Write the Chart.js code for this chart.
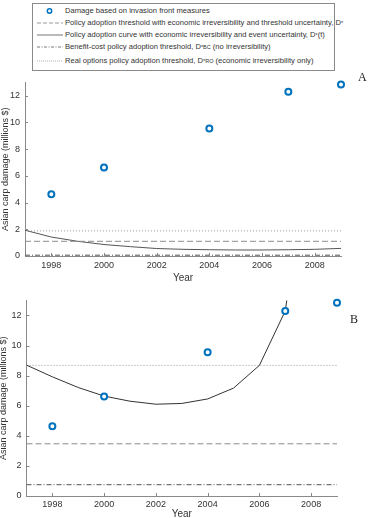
<!DOCTYPE html>
<html>
<head>
<meta charset="utf-8">
<script src="https://cdn.jsdelivr.net/npm/chart.js@4.4.1/dist/chart.umd.min.js"></script>
<style>
  html, body { margin: 0; padding: 0; width: 375px; height: 518px; overflow: hidden; background: #fff; }
  body { position: relative; font-family: "Liberation Sans", Arial, sans-serif; color: #333; }
  .legend { position: absolute; left: 32px; top: 3px; width: 301px; height: 66px; border: 1px solid #8a8a8a; }
  .row { position: absolute; left: 4px; font-size: 7.6px; white-space: nowrap; display: flex; align-items: center; }
  .row svg { width: 26px; height: 6px; margin-right: 2px; flex: none; }
  .row sub, .row sup { font-size: 5.5px; }
  .panel { position: absolute; font-family: "Liberation Serif", "Times New Roman", serif; font-size: 12px; color: #222; }
  .wrap { position: absolute; left: 0; width: 375px; }
</style>
</head>
<body>
<div class="legend">
  <div class="row" style="top:2px"><svg viewBox="0 0 26 6"><circle cx="12.5" cy="3" r="2.2" fill="#fff" stroke="#0072BD" stroke-width="1.5"/></svg>Damage based on invasion front measures</div>
  <div class="row" style="top:14px"><svg viewBox="0 0 26 6"><line x1="0" y1="3" x2="26" y2="3" stroke="#999" stroke-width="1" stroke-dasharray="4 2"/></svg>Policy adoption threshold with economic irreversibility and threshold uncertainty, D<sup>*</sup></div>
  <div class="row" style="top:26px"><svg viewBox="0 0 26 6"><line x1="0" y1="3" x2="26" y2="3" stroke="#777" stroke-width="1"/></svg>Policy adoption curve with economic irreversibility and event uncertainty, D<sup>*</sup>(t)</div>
  <div class="row" style="top:38px"><svg viewBox="0 0 26 6"><line x1="0" y1="3" x2="26" y2="3" stroke="#555" stroke-width="0.8" stroke-dasharray="3 1.5 1 1.5"/></svg>Benefit-cost policy adoption threshold, D<sup>*</sup><sub>BC</sub>&nbsp;(no irreversibility)</div>
  <div class="row" style="top:52px"><svg viewBox="0 0 26 6"><line x1="0" y1="3" x2="26" y2="3" stroke="#999" stroke-width="0.8" stroke-dasharray="1 1"/></svg>Real options policy adoption threshold, D<sup>*</sup><sub>RO</sub>&nbsp;(economic irreversibility only)</div>
</div>

<div class="wrap" style="top:72px;height:212px"><canvas id="chartA"></canvas></div>
<div class="panel" style="left:358px;top:70px">A</div>

<div class="wrap" style="top:290px;height:230px"><canvas id="chartB"></canvas></div>
<div class="panel" style="left:350px;top:312px">B</div>

<script>
// observed damage (both panels)
const obsYears = [1998, 2000, 2004, 2007, 2009];
const obsDamage = [4.63, 6.62, 9.55, 12.3, 12.85];

// panel A: policy adoption curve D*(t)
const curveYearsA = [1997, 1998, 1999, 2000, 2001, 2002, 2003, 2004, 2005, 2006, 2007, 2008, 2009];
const curveA = [1.93, 1.42, 1.1, 0.86, 0.7, 0.56, 0.5, 0.47, 0.45, 0.45, 0.47, 0.5, 0.57];
const dashedA = 1.1;    // D*
const dottedA = 1.88;   // D*_RO
const dashDotA = 0.06;  // D*_BC

// panel B
const curveYearsB = [1997, 1998, 1999, 2000, 2001, 2002, 2003, 2004, 2005, 2006, 2007, 2008];
const curveB = [8.7, 7.92, 7.21, 6.64, 6.3, 6.1, 6.15, 6.45, 7.17, 8.68, 12.3, 24];
const dashedB = 3.47;
const dottedB = 8.68;
const dashDotB = 0.75;

const xTicks = [1998, 2000, 2002, 2004, 2006, 2008];
const yTicks = [0, 2, 4, 6, 8, 10, 12];
const xMin = 1997, xMax = 2009, yMin = 0, yMax = 13;

const pts = (xs, ys) => xs.map((x, i) => ({ x, y: ys[i] }));
const hline = v => [{ x: xMin, y: v }, { x: xMax, y: v }];

// matlab style ticks pointing into the plot
const innerTicks = {
  id: 'innerTicks',
  afterDatasetsDraw(chart) {
    const { ctx, chartArea, scales: { x, y } } = chart;
    ctx.save();
    ctx.strokeStyle = '#888';
    ctx.lineWidth = 1;
    x.ticks.forEach(t => {
      const px = Math.round(x.getPixelForValue(t.value)) + 0.5;
      ctx.beginPath(); ctx.moveTo(px, chartArea.bottom); ctx.lineTo(px, chartArea.bottom - 3); ctx.stroke();
    });
    y.ticks.forEach(t => {
      const py = Math.round(y.getPixelForValue(t.value)) + 0.5;
      ctx.beginPath(); ctx.moveTo(chartArea.left, py); ctx.lineTo(chartArea.left + 3, py); ctx.stroke();
    });
    ctx.restore();
  }
};

function makeConfig(p) {
  return {
    type: 'line',
    data: {
      datasets: [
        { data: pts(obsYears, obsDamage), showLine: false, pointRadius: 3, pointBorderWidth: 2,
          pointBorderColor: '#0072BD', pointBackgroundColor: '#fff', clip: false, order: 0 },
        { data: hline(p.dashed), borderColor: '#8c8c8c', borderWidth: 1, borderDash: [6, 3], pointRadius: 0, order: 1 },
        { data: pts(p.curveYears, p.curve), borderColor: p.curveColor, borderWidth: 1, pointRadius: 0, tension: 0, order: 1 },
        { data: hline(p.dashDot), borderColor: '#555', borderWidth: 1, borderDash: [5, 2, 1, 2], pointRadius: 0, order: 1 },
        { data: hline(p.dotted), borderColor: '#9a9a9a', borderWidth: 1, borderDash: [1, 2], pointRadius: 0, order: 1 }
      ]
    },
    options: {
      responsive: true,
      maintainAspectRatio: false,
      animation: false,
      events: [],
      layout: { padding: { top: p.padTop, right: p.padRight, left: 0, bottom: 0 } },
      plugins: { legend: { display: false }, tooltip: { enabled: false } },
      scales: {
        x: {
          type: 'linear', min: xMin, max: xMax,
          afterBuildTicks: s => { s.ticks = xTicks.map(v => ({ value: v })); },
          afterFit: s => { s.height = p.xHeight; },
          grid: { display: false, drawTicks: false },
          border: { display: true, color: '#8a8a8a', width: 1 },
          ticks: { color: '#333', font: { size: 9, family: 'Liberation Sans' }, padding: p.xPad,
                   autoSkip: false, maxRotation: 0, callback: v => String(v) },
          title: { display: true, text: 'Year', color: '#333', padding: { top: 0, bottom: p.titlePad },
                   font: { size: 10, family: 'Liberation Sans' } }
        },
        y: {
          type: 'linear', min: yMin, max: yMax,
          afterBuildTicks: s => { s.ticks = yTicks.map(v => ({ value: v })); },
          afterFit: s => { s.width = p.yWidth; },
          grid: { display: false, drawTicks: false },
          border: { display: true, color: '#8a8a8a', width: 1 },
          ticks: { color: '#333', font: { size: 9, family: 'Liberation Sans' }, padding: 5 },
          title: { display: true, text: 'Asian carp damage (millions $)', color: '#333',
                   padding: { top: p.yTitlePad, bottom: 0 }, font: { size: 9, family: 'Liberation Sans' } }
        }
      }
    },
    plugins: [innerTicks]
  };
}

new Chart(document.getElementById('chartA'), makeConfig({
  curveYears: curveYearsA, curve: curveA, dashed: dashedA, dotted: dottedA, dashDot: dashDotA,
  curveColor: '#555', padTop: 5, padRight: 34, xHeight: 28, yWidth: 25, xPad: 4, titlePad: 0, yTitlePad: 0.5
}));

new Chart(document.getElementById('chartB'), makeConfig({
  curveYears: curveYearsB, curve: curveB, dashed: dashedB, dotted: dottedB, dashDot: dashDotB,
  curveColor: '#333', padTop: 10, padRight: 38, xHeight: 24, yWidth: 26.5, xPad: 3, titlePad: 0, yTitlePad: -2
}));
</script>
</body>
</html>
